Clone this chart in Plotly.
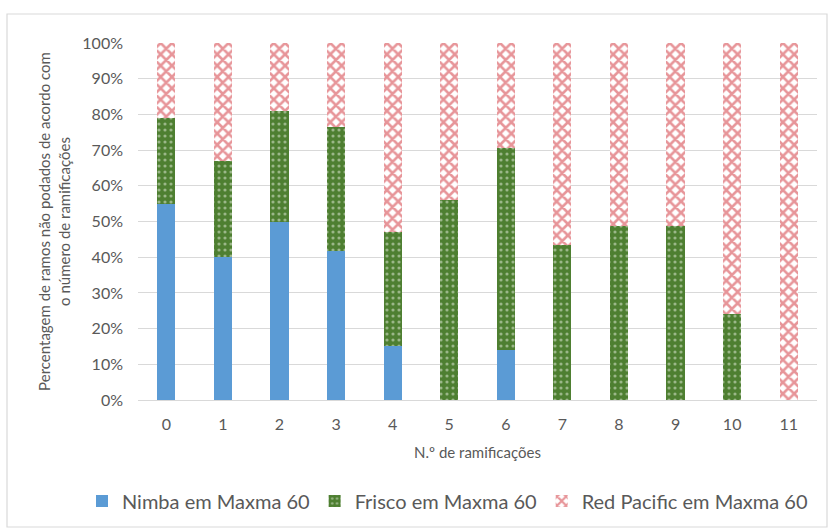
import plotly.graph_objects as go

# Number of ramifications (categories)
categories = ["0", "1", "2", "3", "4", "5", "6", "7", "8", "9", "10", "11"]

# Percentage of unpruned branches per series
nimba = [55, 40, 50, 41.7, 15, 0, 14, 0, 0, 0, 0, 0]
frisco = [24, 27, 31, 34.8, 32, 56, 56.6, 43.4, 48.7, 48.7, 24, 0]
red_pacific = [21, 33, 19, 23.5, 53, 44, 29.4, 56.6, 51.3, 51.3, 76, 100]

y_ticks = [0, 10, 20, 30, 40, 50, 60, 70, 80, 90, 100]
y_tick_labels = [f"{v}%" for v in y_ticks]

FONT = "Lato"
TXT = "#595959"

fig = go.Figure()
fig.add_trace(go.Bar(
    x=categories, y=nimba, name="Nimba em Maxma 60",
    marker=dict(color="#5B9BD5", line=dict(width=0)),
))
fig.add_trace(go.Bar(
    x=categories, y=frisco, name="Frisco em Maxma 60",
    marker=dict(
        color="#548235", line=dict(width=0),
        pattern=dict(shape=".", fgcolor="#E8EFE2", bgcolor="#4E7F31",
                     fillmode="overlay", size=6, solidity=0.22),
    ),
))
fig.add_trace(go.Bar(
    x=categories, y=red_pacific, name="Red Pacific em Maxma 60",
    marker=dict(
        color="#FFFFFF", line=dict(width=0),
        pattern=dict(shape="x", fgcolor="#CF2B33", bgcolor="#FFFFFF",
                     fillmode="overlay", size=8, solidity=0.55),
    ),
))

# Chart-area border
L, R, T, B = 138, 14, 43, 132
W, H = 831 - L - R, 532 - T - B
def px(x):
    return (x - L) / W
def py(y):
    return (532 - B - y) / H

fig.add_shape(type="rect", xref="paper", yref="paper",
              x0=px(7), x1=px(827), y0=py(527), y1=py(14),
              line=dict(color="#D9D9D9", width=1.2), layer="below")

fig.update_layout(
    width=831, height=532,
    margin=dict(l=L, r=R, t=T, b=B),
    barmode="stack", bargap=0.68,
    plot_bgcolor="white", paper_bgcolor="white",
    font=dict(family=FONT, color=TXT, size=15),
    showlegend=True,
    legend=dict(orientation="h", x=px(82), xanchor="left",
                y=py(501), yanchor="middle", traceorder="normal",
                font=dict(size=20, color=TXT, family=FONT),
                itemwidth=30, tracegroupgap=0),
    xaxis=dict(
        title=dict(text="N.º de ramificações", font=dict(size=15, color=TXT), standoff=15),
        tickfont=dict(size=16, color=TXT), showgrid=False,
        showline=False, ticks="", ticklabelstandoff=13,
    ),
    yaxis=dict(
        title=dict(text="Percentagem de ramos não podados de acordo com<br>o número de ramificações",
                   font=dict(size=15, color=TXT), standoff=8),
        range=[0, 100], tickvals=y_ticks, ticktext=y_tick_labels,
        tickfont=dict(size=16, color=TXT),
        showgrid=True, gridcolor="#D9D9D9", gridwidth=1.2,
        zeroline=True, zerolinecolor="#D9D9D9", zerolinewidth=1.2,
        ticks="", ticklabelstandoff=14,
    ),
)

fig.write_html("out.html")
